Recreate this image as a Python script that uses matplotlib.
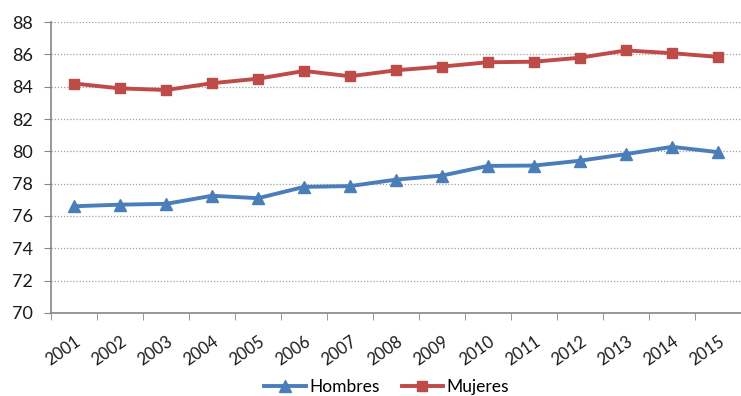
import matplotlib.pyplot as plt

years = ['2001', '2002', '2003', '2004', '2005', '2006', '2007', '2008',
         '2009', '2010', '2011', '2012', '2013', '2014', '2015']
hombres = [76.6, 76.7, 76.75, 77.25, 77.1, 77.8, 77.85, 78.25,
           78.5, 79.1, 79.12, 79.42, 79.83, 80.28, 79.95]
mujeres = [84.2, 83.9, 83.8, 84.22, 84.5, 84.98, 84.65, 85.02,
           85.25, 85.52, 85.55, 85.8, 86.25, 86.08, 85.85]

plt.rcParams['font.family'] = ['Lato', 'DejaVu Sans']

fig = plt.figure(figsize=(7.41, 3.96), dpi=100)
ax = fig.add_axes([0.069, 0.21, 0.931, 0.734])

x = list(range(len(years)))
ax.plot(x, hombres, color='#4A7EBB', lw=2.8, marker='^', ms=8,
        label='Hombres', solid_joinstyle='round')
ax.plot(x, mujeres, color='#BE4B48', lw=2.8, marker='s', ms=7.5,
        label='Mujeres', solid_joinstyle='round')

ax.set_ylim(70, 88)
ax.set_yticks(range(70, 89, 2))
ax.set_xlim(-0.5, 14.31)
ax.set_xticks(x)
ax.set_xticklabels(years, rotation=35, ha='right', rotation_mode='anchor',
                   fontsize=12, color='#1a1a1a')
ax.set_xticks([i - 0.5 for i in range(len(years) + 1)], minor=True)
ax.tick_params(axis='x', which='major', length=0, pad=15)
ax.tick_params(axis='x', which='minor', length=5, color='#868686')
ax.tick_params(axis='y', length=5, color='#868686', labelsize=13,
               labelcolor='#1a1a1a', pad=8)

ax.grid(axis='y', color='#a0a0a0', ls=(0, (1, 1.5)), lw=0.9)
ax.set_axisbelow(True)
for s in ['top', 'right']:
    ax.spines[s].set_visible(False)
for s in ['left', 'bottom']:
    ax.spines[s].set_color('#868686')
    ax.spines[s].set_linewidth(1.2)

fig.legend(loc='lower center', bbox_to_anchor=(0.522, -0.038), ncol=2,
           frameon=False, fontsize=12.5, handlelength=2.4, columnspacing=1.25,
           handletextpad=0.2)

fig.savefig('out.png', dpi=100)
